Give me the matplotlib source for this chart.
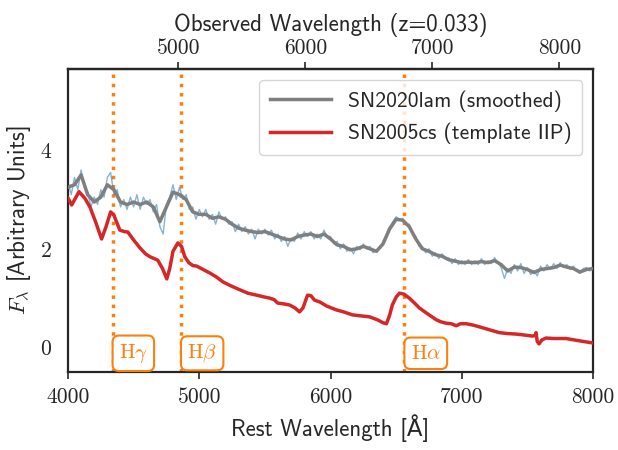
import matplotlib
matplotlib.use("Agg")
import matplotlib.pyplot as plt

# redshift of SN2020lam
z = 0.033

# raw spectrum (25 A grid)
raw_wave = list(range(4000, 8001, 25))
raw_flux = [
    3.35, 3.10, 3.45, 3.20, 3.60, 3.25, 3.15, 2.85, 3.05, 2.90,
    3.20, 3.05, 3.45, 3.55, 3.10, 3.20, 2.85, 3.00, 2.80, 3.05,
    2.85, 3.10, 2.80, 3.05, 2.90, 3.00, 2.75, 2.90, 2.45, 2.30,
    2.90, 3.05, 3.30, 3.00, 3.25, 3.00, 3.10, 2.80, 2.85, 2.60,
    2.80, 2.65, 2.80, 2.60, 2.70, 2.50, 2.75, 2.60, 2.65, 2.50,
    2.55, 2.35, 2.50, 2.35, 2.45, 2.30, 2.40, 2.20, 2.40, 2.30,
    2.40, 2.28, 2.38, 2.20, 2.30, 2.15, 2.25, 2.05, 2.22, 2.15,
    2.32, 2.20, 2.35, 2.25, 2.35, 2.20, 2.30, 2.20, 2.38, 2.25,
    2.25, 2.10, 2.15, 2.00, 2.10, 1.95, 2.02, 1.90, 2.05, 1.98,
    2.10, 2.00, 2.05, 1.92, 1.98, 2.00, 2.15, 2.30, 2.45, 2.55,
    2.65, 2.60, 2.62, 2.50, 2.50, 2.30, 2.25, 2.05, 2.05, 1.92,
    2.00, 1.85, 1.92, 1.80, 1.90, 1.80, 1.82, 1.70, 1.80, 1.68,
    1.76, 1.68, 1.78, 1.68, 1.76, 1.68, 1.80, 1.68, 1.76, 1.70,
    1.82, 1.72, 1.62, 1.40, 1.60, 1.50, 1.68, 1.55, 1.70, 1.50,
    1.62, 1.48, 1.56, 1.45, 1.65, 1.55, 1.68, 1.58, 1.70, 1.60,
    1.72, 1.62, 1.68, 1.58, 1.65, 1.55, 1.50, 1.60, 1.62, 1.55,
    1.62,
]

# smoothed spectrum (50 A grid)
smooth_wave = list(range(4000, 8001, 50))
smooth_flux = [
    3.25, 3.30, 3.50, 3.10, 2.95, 3.05, 3.30, 3.20, 2.95, 2.90,
    2.95, 2.90, 2.95, 2.85, 2.55, 2.85, 3.15, 3.10, 3.00, 2.75,
    2.70, 2.70, 2.62, 2.65, 2.60, 2.50, 2.42, 2.38, 2.35, 2.33,
    2.35, 2.30, 2.25, 2.20, 2.18, 2.25, 2.28, 2.30, 2.25, 2.30,
    2.20, 2.08, 2.05, 1.98, 2.00, 2.05, 2.00, 1.95, 2.10, 2.40,
    2.60, 2.58, 2.45, 2.20, 2.00, 1.95, 1.88, 1.85, 1.78, 1.75,
    1.72, 1.73, 1.72, 1.74, 1.72, 1.76, 1.68, 1.55, 1.63, 1.62,
    1.58, 1.52, 1.58, 1.60, 1.62, 1.67, 1.63, 1.60, 1.53, 1.58,
    1.60,
]

# SN2005cs template
tmpl_wave = [
    4000, 4028, 4084, 4130, 4167, 4210, 4256, 4290, 4325, 4350,
    4395, 4430, 4456, 4500, 4548, 4590, 4624, 4684, 4720, 4753,
    4775, 4800, 4837, 4865, 4890, 4920, 4951, 4980, 5030, 5080,
    5130, 5180, 5240, 5308, 5370, 5437, 5500, 5536, 5570, 5597,
    5650, 5688, 5730, 5764, 5790, 5825, 5850, 5878, 5920, 5970,
    6045, 6100, 6167, 6230, 6297, 6357, 6400, 6426, 6450, 6471,
    6500, 6525, 6560, 6600, 6640, 6677, 6740, 6806, 6840, 6882,
    6920, 6958, 6990, 7034, 7090, 7156, 7220, 7285, 7350, 7414,
    7480, 7536, 7560, 7566, 7575, 7589, 7610, 7642, 7700, 7794,
    7880, 7950, 8000,
]
tmpl_flux = [
    3.03, 2.89, 3.16, 3.02, 2.85, 2.55, 2.20, 2.45, 2.75, 2.68,
    2.38, 2.35, 2.34, 2.18, 2.02, 1.90, 1.84, 1.77, 1.60, 1.39,
    1.60, 1.95, 2.12, 2.05, 1.84, 1.72, 1.66, 1.65, 1.58, 1.51,
    1.43, 1.33, 1.25, 1.17, 1.10, 1.06, 1.02, 1.00, 0.97, 0.90,
    0.88, 0.86, 0.80, 0.72, 0.80, 1.06, 1.05, 0.96, 0.92, 0.84,
    0.76, 0.72, 0.66, 0.64, 0.62, 0.56, 0.50, 0.48, 0.65, 0.86,
    1.02, 1.10, 1.08, 1.00, 0.90, 0.80, 0.68, 0.56, 0.52, 0.49,
    0.48, 0.44, 0.48, 0.48, 0.45, 0.40, 0.35, 0.30, 0.28, 0.27,
    0.25, 0.23, 0.24, 0.30, 0.12, 0.07, 0.15, 0.19, 0.18, 0.18,
    0.14, 0.11, 0.09,
]

line_names = [r"$\mathrm{H}\gamma$", r"$\mathrm{H}\beta$", r"$\mathrm{H}\alpha$"]
line_waves = [4340, 4861, 6563]

plt.rcParams["mathtext.fontset"] = "cm"
plt.rcParams["font.family"] = ["cmss10", "DejaVu Sans"]
plt.rcParams["axes.unicode_minus"] = False

fig = plt.figure(figsize=(6.18, 4.5), dpi=100)
ax = fig.add_axes([0.110, 0.1733, 0.8496, 0.6734])

ax.plot(raw_wave, raw_flux, color="#1f77b4", lw=1, alpha=0.55, zorder=2)
ax.plot(smooth_wave, smooth_flux, color="#7f7f7f", lw=2.5,
        label="SN2020lam (smoothed)", zorder=3)
ax.plot(tmpl_wave, tmpl_flux, color="#d62728", lw=2.5,
        label="SN2005cs (template IIP)", zorder=3)

for name, w in zip(line_names, line_waves):
    ax.axvline(w, color="#ff7f0e", ls=":", lw=2.5, zorder=1)
    ax.annotate(name, xy=(w, -0.12), xytext=(4.5, 0), textcoords="offset points",
                ha="left", va="center", fontsize=15, color="#ff7f0e", zorder=5,
                bbox=dict(boxstyle="round,pad=0.3", fc="white", ec="#ff7f0e", lw=1.5))

ax.set_xlim(4000, 8000)
ax.set_ylim(-0.5, 5.65)
ax.set_xticks([4000, 5000, 6000, 7000, 8000])
ax.set_yticks([0, 2, 4])
ax.tick_params(axis="x", direction="out", length=5, width=1.2, pad=6,
               labelsize=15.5, labelfontfamily="cmr10", colors="#262626")
ax.tick_params(axis="y", length=0, pad=12, labelsize=15.5,
               labelfontfamily="cmr10", colors="#262626")
for sp in ax.spines.values():
    sp.set_linewidth(1.6)
    sp.set_color("#262626")

ax.set_xlabel("Rest Wavelength [Å]", fontsize=16.5, color="#262626", labelpad=5)
ax.set_ylabel(r"$F_\lambda$ [Arbitrary Units]", fontsize=16.5, color="#262626", labelpad=5)

top = ax.secondary_xaxis("top", functions=(lambda x: x * (1 + z), lambda x: x / (1 + z)))
top.set_xticks([5000, 6000, 7000, 8000])
top.tick_params(direction="out", length=5, width=1.2, pad=3, labelsize=15.5,
                labelfontfamily="cmr10", colors="#262626")
top.spines["top"].set_linewidth(1.6)
top.set_xlabel(f"Observed Wavelength (z={z})", fontsize=16.5, color="#262626", labelpad=5)

leg = ax.legend(loc="upper right", fontsize=15.5, handlelength=2.8, framealpha=0.8,
                edgecolor="#cccccc", borderpad=0.5)
for t in leg.get_texts():
    t.set_color("#262626")

fig.savefig("out.png", dpi=100)
